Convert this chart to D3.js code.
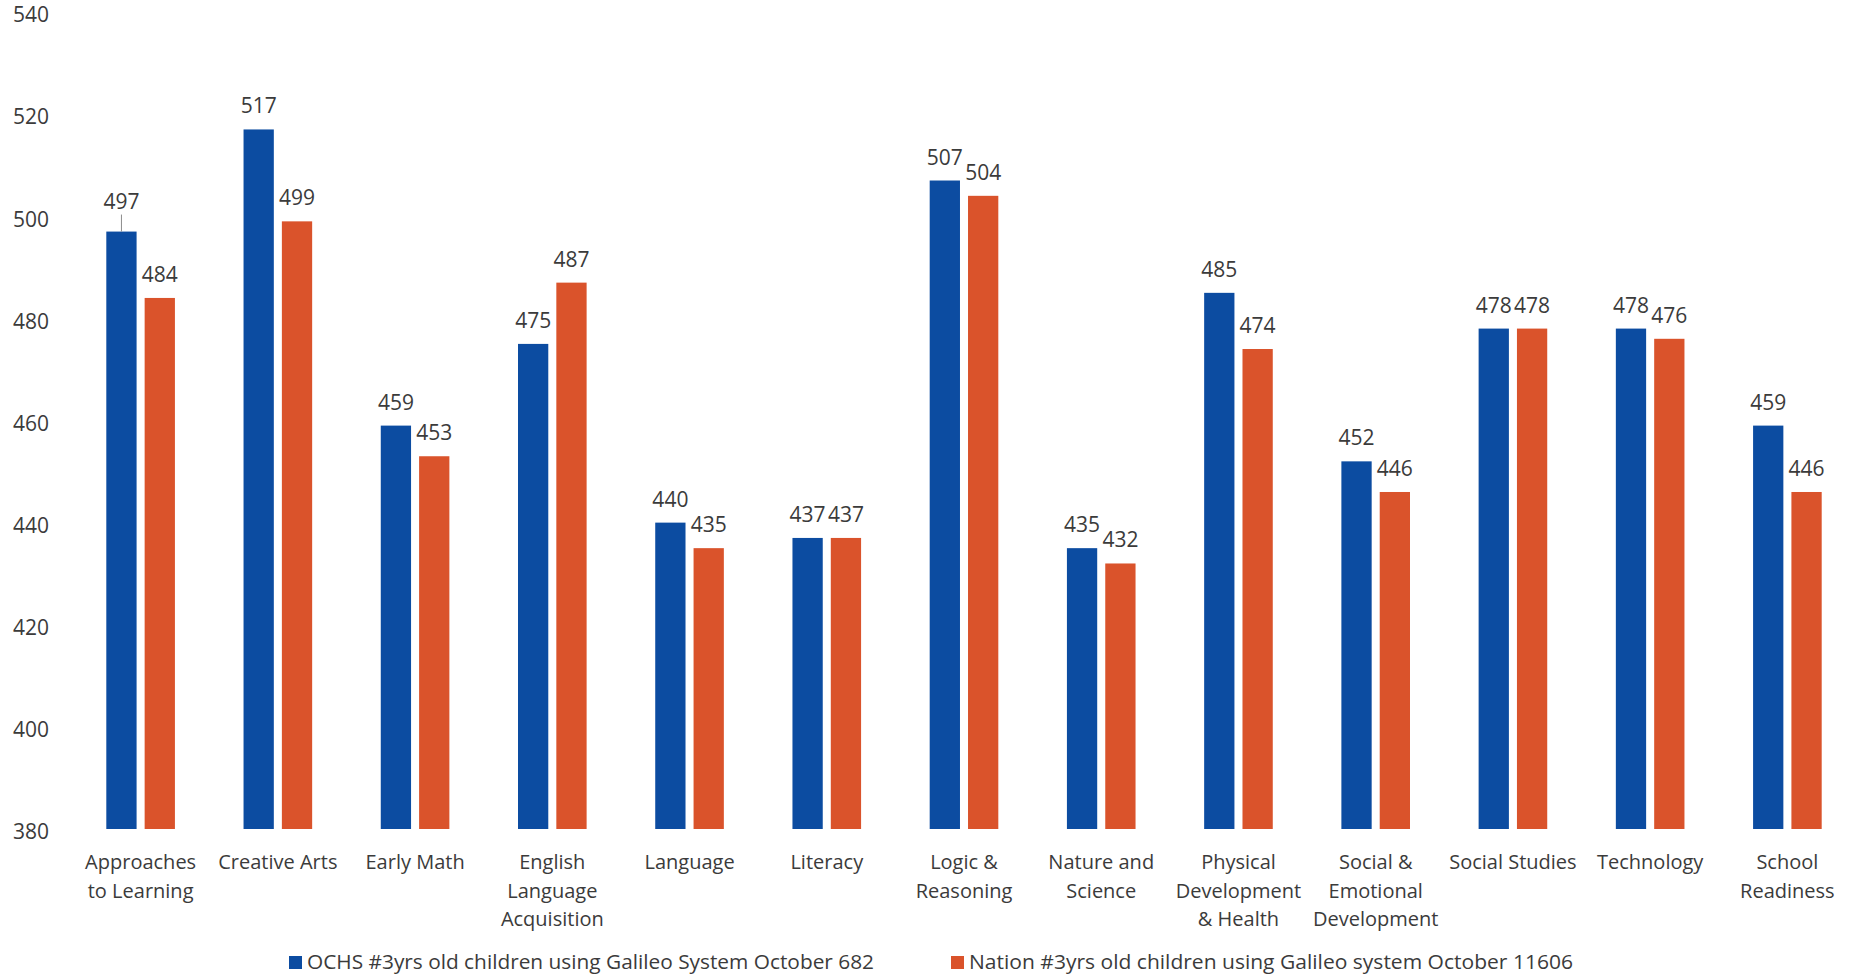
<!DOCTYPE html>
<html>
<head>
<meta charset="utf-8">
<script src="https://cdn.jsdelivr.net/npm/d3@7"></script>
<style>
  body { margin: 0; background: #fff; }
  text { font-family: "Open Sans", sans-serif; fill: #3b3b3b; }
</style>
</head>
<body>
<script>
// chart data
var categories = [
  "Approaches\nto Learning", "Creative Arts", "Early Math",
  "English\nLanguage\nAcquisition", "Language", "Literacy",
  "Logic &\nReasoning", "Nature and\nScience",
  "Physical\nDevelopment\n& Health", "Social &\nEmotional\nDevelopment",
  "Social Studies", "Technology", "School\nReadiness"
];
var series = [
  "OCHS #3yrs old children using Galileo System October 682",
  "Nation #3yrs old children using Galileo system October 11606"
];
var ochs = [497, 517, 459, 475, 440, 437, 507, 435, 485, 452, 478, 478, 459];
var nation = [484, 499, 453, 487, 435, 437, 504, 432, 474, 446, 478, 476, 446];
var yTicks = [380, 400, 420, 440, 460, 480, 500, 520, 540];

var colors = ["#0c4ca1", "#da532b"];
var values = [ochs, nation];

var W = 1856, H = 978;
var svg = d3.select("body").append("svg").attr("width", W).attr("height", H);

var x = d3.scaleBand().domain(categories).range([72, 1856])
  .paddingInner(0.5).paddingOuter(0.25);
var x1 = d3.scaleBand().domain([0, 1]).range([0, x.bandwidth()]).paddingInner(0.21);
var y = d3.scaleLinear().domain([380, 540]).range([829, 12]);

// y axis labels (no axis line)
svg.append("g").selectAll("text").data(yTicks).enter().append("text")
  .attr("x", 49)
  .attr("y", function(d) { return y(d) + 3; })
  .attr("dy", "0.35em")
  .attr("text-anchor", "end")
  .style("font-size", "21px")
  .text(function(d) { return d; });

// bars
var groups = svg.append("g").selectAll("g").data(categories).enter().append("g")
  .attr("transform", function(d) { return "translate(" + x(d) + ",0)"; });

// the first blue label was dragged up a bit in the original, with a leader line
function lift(s, i) { return (s == 0 && i == 0) ? 7 : 0; }

for (var s = 0; s < 2; s++) {
  (function(s) {
    groups.append("rect")
      .attr("x", x1(s))
      .attr("width", x1.bandwidth())
      .attr("y", function(d, i) { return y(values[s][i]); })
      .attr("height", function(d, i) { return y(380) - y(values[s][i]); })
      .attr("fill", colors[s]);
    groups.filter(function(d, i) { return lift(s, i) > 0; }).append("line")
      .attr("x1", x1(s) + x1.bandwidth() / 2)
      .attr("x2", x1(s) + x1.bandwidth() / 2)
      .attr("y1", function(d) { return y(values[s][categories.indexOf(d)]); })
      .attr("y2", function(d) { return y(values[s][categories.indexOf(d)]) - 17; })
      .attr("stroke", "#8c8c8c")
      .attr("stroke-width", 1);
    groups.append("text")
      .attr("x", x1(s) + x1.bandwidth() / 2)
      .attr("y", function(d, i) { return y(values[s][i]) - 16 - lift(s, i); })
      .attr("text-anchor", "middle")
      .style("font-size", "21px")
      .text(function(d, i) { return values[s][i]; });
  })(s);
}

// category labels
groups.append("text")
  .attr("text-anchor", "middle")
  .style("font-size", "20px")
  .each(function(d) {
    var t = d3.select(this);
    d.split("\n").forEach(function(line, k) {
      t.append("tspan")
        .attr("x", x.bandwidth() / 2)
        .attr("y", 869 + k * 28.7)
        .text(line);
    });
  });

// legend
var legendX = [289, 951];
var legendW = [567, 604];
var legend = svg.append("g");
series.forEach(function(name, s) {
  legend.append("rect")
    .attr("x", legendX[s]).attr("y", 956)
    .attr("width", 13).attr("height", 13)
    .attr("fill", colors[s]);
  legend.append("text")
    .attr("x", legendX[s] + 18).attr("y", 969)
    .attr("textLength", legendW[s])
    .attr("lengthAdjust", "spacingAndGlyphs")
    .style("font-size", "20px")
    .text(name);
});
</script>
</body>
</html>
